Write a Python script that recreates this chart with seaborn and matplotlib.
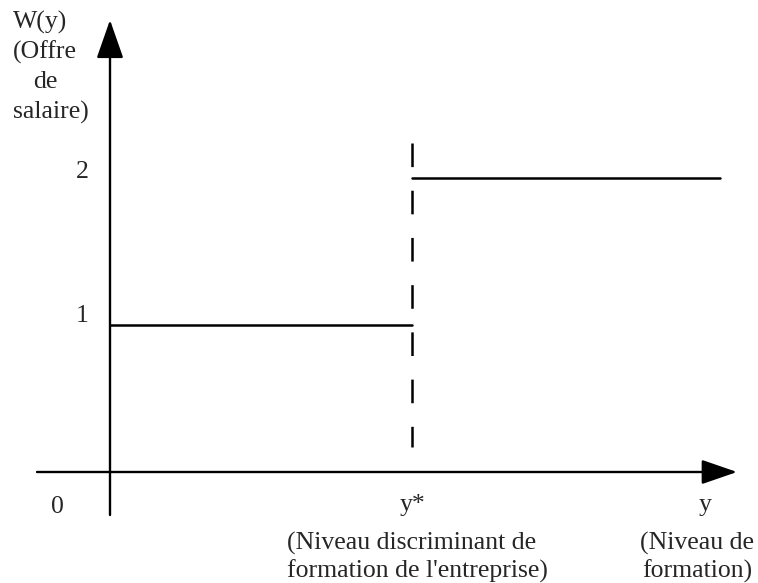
import numpy as np
import pandas as pd
import matplotlib
matplotlib.use("Agg")
import matplotlib.pyplot as plt
import seaborn as sns

# wage schedule W(y): 1 below the screening level y*, 2 above
wage_levels = [1, 2]
y_star = 1.0
y_end = 2.02
dash_top = 2.24
dash_bottom = 0.17
tick_labels = ["0", "1", "2"]
y_axis_label = ["W(y)", "(Offre", "de", "salaire)"]
y_star_note = ["(Niveau discriminant de", "formation de l'entreprise)"]
x_note = ["(Niveau de", "formation)"]

sns.set_style("white")
plt.rcParams["font.family"] = ["Liberation Serif", "DejaVu Serif"]
plt.rcParams["lines.scale_dashes"] = False

# pixel scale used for the layout (origin of the axes at px 110, 472)
XS, YS = 302.0, 147.0
def dx(px): return (px - 110) / XS
def dy(py): return (472 - py) / YS

df = pd.DataFrame({
    "x": [0, y_star, y_star, y_end],
    "w": [wage_levels[0], wage_levels[0], wage_levels[1], wage_levels[1]],
    "seg": ["low", "low", "high", "high"],
})

fig = plt.figure(figsize=(7.58, 5.83), dpi=100)
ax = fig.add_axes([0, 0, 1, 1])
ax.set_xlim(dx(0), dx(758))
ax.set_ylim(dy(583), dy(0))
ax.axis("off")

sns.lineplot(data=df, x="x", y="w", units="seg", estimator=None,
             color="black", lw=1.8, ax=ax, legend=False)

# dashed threshold at y*
ax.plot([y_star, y_star], [dash_top, dash_bottom], color="black", lw=1.8,
        linestyle=(0, (17, 17)))

# axes with arrows
ax.annotate("", xy=(0, dy(20)), xytext=(0, dy(515)),
            arrowprops=dict(arrowstyle="-|>,head_length=1.2,head_width=0.42",
                            mutation_scale=20, lw=1.7, color="black",
                            shrinkA=0, shrinkB=0))
ax.annotate("", xy=(dx(737), 0), xytext=(dx(37), 0),
            arrowprops=dict(arrowstyle="-|>,head_length=1.1,head_width=0.38",
                            mutation_scale=20, lw=1.7, color="black",
                            shrinkA=0, shrinkB=0))

fs = 18.5
ax.text(dx(57), dy(507), tick_labels[0], fontsize=fs, ha="center", va="center")
ax.text(dx(82), wage_levels[0] + 0.06, tick_labels[1], fontsize=fs, ha="center", va="center")
ax.text(dx(82), wage_levels[1] + 0.04, tick_labels[2], fontsize=fs, ha="center", va="center")

for i, s in enumerate(y_axis_label):
    if s == "de":
        ax.text(dx(45), dy(22 + 30 * i), s, fontsize=fs, ha="center", va="center")
    else:
        ax.text(dx(13), dy(22 + 30 * i), s, fontsize=fs, ha="left", va="center")

ax.text(y_star, dy(505), "y*", fontsize=fs, ha="center", va="center")
ax.text(dx(705), dy(505), "y", fontsize=fs, ha="center", va="center")
for i, s in enumerate(y_star_note):
    ax.text(dx(287), dy(543 + 28 * i), s, fontsize=fs, ha="left", va="center")
for i, s in enumerate(x_note):
    ax.text(dx(697), dy(543 + 28 * i), s, fontsize=fs, ha="center", va="center")

fig.savefig("out.png", dpi=100)
